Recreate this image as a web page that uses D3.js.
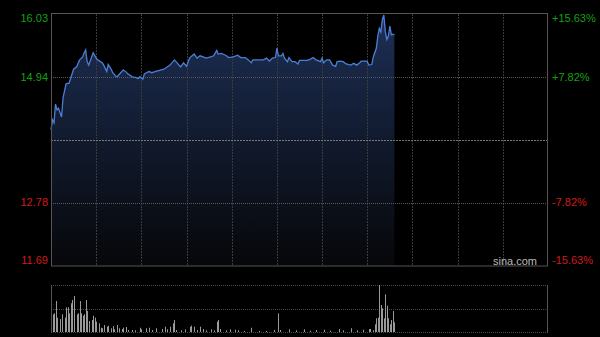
<!DOCTYPE html>
<html>
<head>
<meta charset="utf-8">
<script src="https://cdn.jsdelivr.net/npm/d3@7"></script>
<style>
  html, body { margin: 0; padding: 0; background: #000; }
  svg { display: block; font-family: Arial, "Liberation Sans", sans-serif; }
</style>
</head>
<body>
<svg width="600" height="337"></svg>
<script>
// trading minutes since 09:30 (HK session, 330 min total)
const minutes = [0,1,2,3,4,5,7,8,10,12,13,15,17,19,21,22,23,24,25,27,28,30,31,34,35,37,38,40,41,43,44,46,48,50,51,54,56,58,59,61,62,65,67,69,75,79,82,84,86,88,90,92,95,97,99,101,103,106,108,110,111,113,116,118,121,124,126,129,131,133,134,138,141,143,145,147,149,150,151,153,154,155,157,158,160,162,164,165,168,170,172,174,176,179,180,181,183,185,187,189,190,192,194,196,199,201,203,205,206,209,210,211,213,214,216,217,218,219,220,221,222,223,224,225,226,227,228];
const prices = [14.03,14.20,14.15,14.47,14.37,14.40,14.25,14.58,14.82,14.83,14.91,15.07,15.11,15.23,15.28,15.35,15.40,15.20,15.14,15.28,15.35,15.26,15.23,15.18,15.14,15.03,15.15,15.07,15.01,14.95,14.94,15.00,15.06,15.02,14.99,14.94,14.93,14.91,14.94,14.90,14.99,15.03,15.01,15.03,15.07,15.14,15.23,15.17,15.11,15.18,15.12,15.26,15.33,15.26,15.30,15.28,15.26,15.28,15.30,15.39,15.33,15.34,15.31,15.27,15.28,15.31,15.27,15.27,15.23,15.18,15.23,15.23,15.23,15.26,15.21,15.26,15.27,15.43,15.30,15.30,15.34,15.26,15.20,15.27,15.20,15.20,15.16,15.22,15.22,15.22,15.24,15.27,15.23,15.20,15.26,15.18,15.23,15.23,15.14,15.12,15.20,15.21,15.20,15.16,15.14,15.17,15.14,15.18,15.21,15.21,15.20,15.14,15.15,15.28,15.43,15.64,15.77,15.71,15.92,16.00,15.71,15.58,15.64,15.81,15.66,15.67,15.66];

const volMinutes = [1,2,3,4,6,7,9,10,11,12,13,14,15,17,18,19,20,21,22,23,24,25,27,28,29,30,32,33,34,35,37,38,40,41,42,44,45,47,48,50,51,54,56,59,60,63,65,67,70,74,76,77,79,81,82,83,86,89,92,93,95,97,99,101,103,106,108,110,111,112,116,119,122,124,128,133,138,143,148,151,152,158,163,168,172,176,181,185,191,194,199,203,207,211,212,214,215,216,217,218,219,220,221,222,223,224,225,226,227,228];
const volumes = [177,187,310,143,130,177,143,247,247,187,287,320,360,177,187,310,187,163,177,320,210,110,120,163,143,103,87,43,37,70,53,63,37,60,27,70,37,30,43,50,20,20,17,43,27,37,43,20,37,30,53,27,53,87,120,20,17,27,53,63,53,20,53,30,17,27,17,103,120,30,17,27,23,17,10,43,10,10,20,187,20,27,17,27,13,20,23,13,30,17,37,17,23,30,30,17,77,137,143,470,270,237,137,377,263,137,77,120,210,97];

const prevClose = 13.86;
const priceTicks = [16.03, 14.94, 12.78, 11.69];
const pctTicks = ["+15.63%", "+7.82%", "-7.82%", "-15.63%"];
const gridMinutes = [30, 60, 90, 120, 150, 180, 210, 240, 270, 300];

const svg = d3.select("svg");

const x = d3.scaleLinear().domain([0, 330]).range([51, 548]);
const y = d3.scaleLinear().domain([11.69, 16.03]).range([266, 13.3]);
const yv = d3.scaleLinear().domain([0, 470]).range([332, 285]);

const defs = svg.append("defs");
const grad = defs.append("linearGradient")
    .attr("id", "fillGrad")
    .attr("gradientUnits", "userSpaceOnUse")
    .attr("x1", 0).attr("y1", 13).attr("x2", 0).attr("y2", 266);
grad.append("stop").attr("offset", 0).attr("stop-color", "#1e3057");
grad.append("stop").attr("offset", 0.5).attr("stop-color", "#111a2e");
grad.append("stop").attr("offset", 1).attr("stop-color", "#060709");

// price area + line
const pts = minutes.map((m, i) => [m, prices[i]]);

svg.append("path")
    .datum(pts)
    .attr("fill", "url(#fillGrad)")
    .attr("d", d3.area().x(d => x(d[0])).y0(266).y1(d => y(d[1])));

// vertical grid
svg.selectAll(".vgrid")
    .data(gridMinutes)
    .enter().append("line")
    .attr("x1", d => Math.round(x(d)) + 0.5).attr("x2", d => Math.round(x(d)) + 0.5)
    .attr("y1", 14).attr("y2", 266)
    .attr("stroke", "#3a3a3a")
    .attr("stroke-dasharray", "2,1");

// horizontal grid
svg.selectAll(".hgrid")
    .data([14.94, 12.78])
    .enter().append("line")
    .attr("x1", 51).attr("x2", 548)
    .attr("y1", d => Math.round(y(d)) + 0.5).attr("y2", d => Math.round(y(d)) + 0.5)
    .attr("stroke", "#5a5a5a")
    .attr("stroke-dasharray", "1,1");

svg.append("line")
    .attr("x1", 51).attr("x2", 548)
    .attr("y1", Math.round(y(prevClose)) + 0.5).attr("y2", Math.round(y(prevClose)) + 0.5)
    .attr("stroke", "#777")
    .attr("stroke-width", 1.2)
    .attr("stroke-dasharray", "2,1");

svg.append("path")
    .datum(pts)
    .attr("fill", "none")
    .attr("stroke", "#4b7fd6")
    .attr("stroke-width", 1.3)
    .attr("d", d3.line().x(d => x(d[0])).y(d => y(d[1])));

// main frame
svg.append("rect")
    .attr("x", 51.5).attr("y", 13.5)
    .attr("width", 496).attr("height", 252.5)
    .attr("fill", "none")
    .attr("stroke", "#555");

// axis labels
svg.selectAll(".lt")
    .data(priceTicks)
    .enter().append("text")
    .attr("x", 48)
    .attr("y", (d, i) => i === 0 ? y(d) + 5 : i === 3 ? y(d) - 6 : y(d))
    .attr("dy", "0.35em")
    .attr("text-anchor", "end")
    .attr("font-size", 11)
    .attr("fill", d => d > prevClose ? "#14a014" : "#d01a1a")
    .text(d => d.toFixed(2));

svg.selectAll(".rt")
    .data(pctTicks)
    .enter().append("text")
    .attr("x", 552)
    .attr("y", (d, i) => i === 0 ? y(priceTicks[i]) + 5 : i === 3 ? y(priceTicks[i]) - 6 : y(priceTicks[i]))
    .attr("dy", "0.35em")
    .attr("font-size", 11)
    .attr("fill", d => d[0] === "+" ? "#14a014" : "#d01a1a")
    .text(d => d);

svg.append("text")
    .attr("x", 537).attr("y", 265)
    .attr("text-anchor", "end")
    .attr("font-size", 11)
    .attr("fill", "#bbb")
    .text("sina.com");

// volume panel
svg.selectAll(".vline")
    .data([285, 308.5, 332])
    .enter().append("line")
    .attr("x1", 51).attr("x2", 548)
    .attr("y1", d => Math.round(d) + 0.5).attr("y2", d => Math.round(d) + 0.5)
    .attr("stroke", "#4a4a4a")
    .attr("stroke-dasharray", "1,1");

svg.selectAll(".vbar")
    .data(volMinutes.map((m, i) => [m, volumes[i]]))
    .enter().append("rect")
    .attr("x", d => Math.round(x(d[0])))
    .attr("width", 1)
    .attr("y", d => yv(d[1]))
    .attr("height", d => 332 - yv(d[1]))
    .attr("fill", "#9a9a9a");

svg.selectAll(".vside")
    .data([51.5, 547.5])
    .enter().append("line")
    .attr("x1", d => d).attr("x2", d => d)
    .attr("y1", 285).attr("y2", 333)
    .attr("stroke", "#555");
</script>
</body>
</html>
